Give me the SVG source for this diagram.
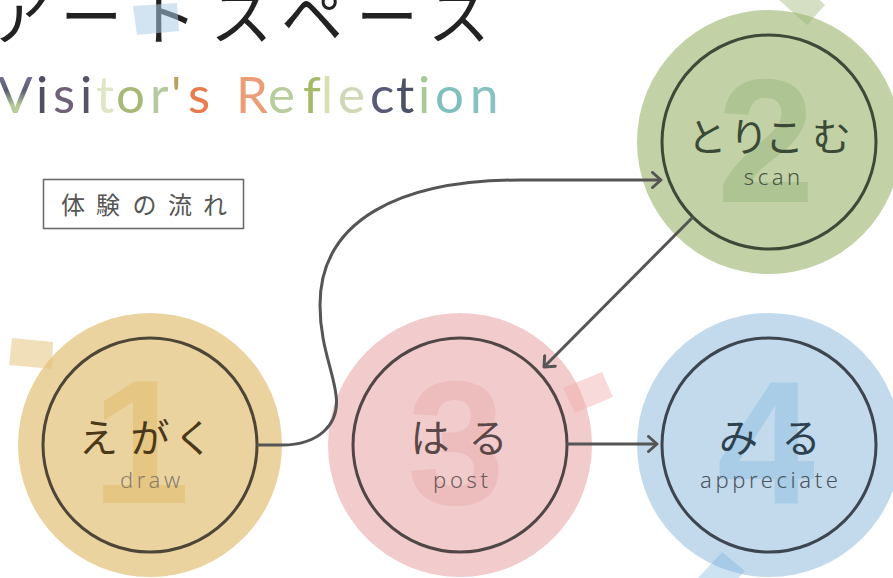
<svg xmlns="http://www.w3.org/2000/svg" width="893" height="578" viewBox="0 0 893 578">
<defs>
<style>
.ring{fill:none;stroke-width:3}
.num{font-family:"Liberation Sans",Arial,sans-serif;font-weight:bold;font-size:176px;text-anchor:middle}
.jp{font-family:"Noto Sans CJK JP","Noto Sans",sans-serif;font-size:39px;text-anchor:middle;font-weight:400}
.en{font-family:"Noto Sans","Lato",sans-serif;font-size:22px;text-anchor:middle;letter-spacing:3.6px;font-weight:300}
.conn{fill:none;stroke:#555;stroke-width:3}
.title{font-family:"Noto Sans CJK JP",sans-serif;font-size:62px;letter-spacing:13px;fill:#222;font-weight:400}
.sub{font-family:"Lato","Noto Sans",sans-serif;font-size:51px;font-weight:400}
</style>
<marker id="chev" viewBox="0 0 12 18" refX="10.5" refY="9" markerWidth="12" markerHeight="18" markerUnits="userSpaceOnUse" orient="auto">
<path d="M2,1.5 L10.5,9 L2,16.5" fill="none" stroke="#555" stroke-width="3" stroke-linecap="round" stroke-linejoin="round"/>
</marker>
<linearGradient id="gV" x1="0" y1="0" x2="0" y2="1">
<stop offset="0" stop-color="#8e86ae"/><stop offset="0.45" stop-color="#5b5d72"/><stop offset="0.7" stop-color="#b7cc98"/><stop offset="1" stop-color="#b7cc98"/>
</linearGradient>
</defs>
<rect width="893" height="578" fill="#fff"/>

<g id="title">
<text class="title" x="-11" y="40">アートスペース</text>
<polygon points="133,6 177,3 179,31 137,35" fill="#aacae6" opacity="0.53"/>
<text class="sub" y="113"><tspan x="-2" fill="url(#gV)">V</tspan><tspan x="36" fill="#4e5062">i</tspan><tspan x="53" fill="#6e6078">s</tspan><tspan x="80" fill="#555366">i</tspan><tspan x="96" fill="#dfe6c6">t</tspan><tspan x="116" fill="#a8b878">o</tspan><tspan x="150" fill="#b6c8a0">r</tspan><tspan x="171" fill="#b8a060">'</tspan><tspan x="188" fill="#e87a4c">s</tspan><tspan x="236" fill="#eb9d78">R</tspan><tspan x="268" fill="#b8cc9c">e</tspan><tspan x="303" fill="#a6b86a">f</tspan><tspan x="321" fill="#d6e0ae">l</tspan><tspan x="338" fill="#cfd8b6">e</tspan><tspan x="370" fill="#585878">c</tspan><tspan x="396" fill="#4c5066">t</tspan><tspan x="418" fill="#a8c898">i</tspan><tspan x="435" fill="#80bfbf">o</tspan><tspan x="470" fill="#88c2c0">n</tspan></text>
</g>

<g id="legend">
<rect x="43.5" y="179.5" width="200" height="49" fill="none" stroke="#666" stroke-width="1.5"/>
<text font-family="'Noto Sans CJK JP',sans-serif" font-size="24" fill="#555" text-anchor="middle" y="214" x="73 108 144.5 180 215">体験の流れ</text>
</g>

<g id="node-draw">
<circle cx="150" cy="445" r="132" fill="#ebd3a0"/>
<text class="num" x="141" y="503" fill="#e5c682">1</text>
<circle class="ring" cx="150" cy="445" r="107" stroke="#4d4536"/>
<text class="jp" y="452" x="98.5 150 193.5" fill="#4a3818">えがく</text>
<text class="en" x="151.8" y="488" fill="#8a7d68">draw</text>
<polygon points="12,338 53,342 52,369 9,365" fill="#e3bf75" opacity="0.5"/>
</g>

<g id="node-scan">
<circle cx="769" cy="142" r="132" fill="#c2d1a6"/>
<text class="num" x="766" y="202" fill="#aec593">2</text>
<circle class="ring" cx="769" cy="142" r="107" stroke="#3d4a38"/>
<text class="jp" y="151" x="707 749 784.5 831.5" fill="#3a4a36">とりこむ</text>
<text class="en" x="773.8" y="185" fill="#4a5644">scan</text>
<polygon points="807,25 825,5 795,-22 777,-2" fill="#9cb577" opacity="0.43"/>
</g>

<g id="node-post">
<circle cx="460" cy="445" r="132" fill="#f2cccc"/>
<text class="num" x="456" y="504" fill="#edbcbc">3</text>
<circle class="ring" cx="460" cy="445" r="107" stroke="#504646"/>
<text class="jp" y="452" x="430 488" fill="#5a4848">はる</text>
<text class="en" x="462.3" y="488" fill="#6a5a5a">post</text>
<polygon points="563,388 602,372 613,397 575,413" fill="#f0aaaa" opacity="0.43"/>
</g>

<g id="node-appreciate">
<circle cx="769" cy="445" r="132" fill="#c2daec"/>
<text class="num" x="766" y="504" fill="#a9cde6">4</text>
<circle class="ring" cx="769" cy="445" r="107" stroke="#3d4650"/>
<text class="jp" y="452" x="738.5 801" fill="#2c4050">みる</text>
<text class="en" x="770.8" y="488" fill="#4a5560" letter-spacing="4.2">appreciate</text>
<polygon points="722,552 745,571 720,598 697,579" fill="#7ab3dc" opacity="0.37"/>
</g>

<g id="connectors">
<path class="conn" d="M257,445 L282,445 C318,445 340,425 336,395 C333,370 320,345 320,305 C320,220 400,180 520,180 L661,180" marker-end="url(#chev)"/>
<path class="conn" d="M693,217 L544,367" marker-end="url(#chev)"/>
<path class="conn" d="M567,444 L657,444" marker-end="url(#chev)"/>
</g>
</svg>
